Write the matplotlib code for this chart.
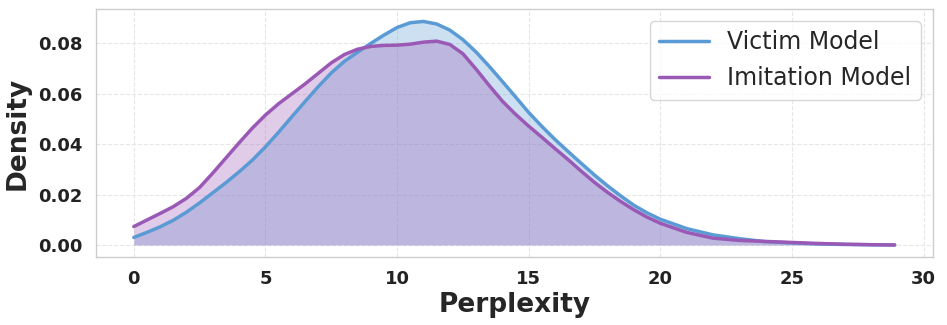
import numpy as np
import matplotlib
matplotlib.use('Agg')
import matplotlib.pyplot as plt
import seaborn as sns

# Densidades (paso de 0.5 hasta 20, luego de 1)
perplejidad = [0, 0.5, 1, 1.5, 2, 2.5, 3, 3.5, 4, 4.5, 5, 5.5, 6, 6.5, 7, 7.5, 8, 8.5,
               9, 9.5, 10, 10.5, 11, 11.5, 12, 12.5, 13, 13.5, 14, 14.5, 15, 15.5,
               16, 16.5, 17, 17.5, 18, 18.5, 19, 19.5, 20, 21, 22, 23, 24, 25, 26,
               27, 28, 28.9]
victima = [0.0030, 0.0050, 0.0072, 0.0098, 0.0130, 0.0167, 0.0207, 0.0247, 0.0290,
           0.0336, 0.0389, 0.0447, 0.0508, 0.0568, 0.0627, 0.0682, 0.0728, 0.0764,
           0.0799, 0.0832, 0.0862, 0.0881, 0.0886, 0.0876, 0.0852, 0.0814, 0.0765,
           0.0708, 0.0648, 0.0587, 0.0525, 0.0470, 0.0418, 0.0370, 0.0323, 0.0277,
           0.0234, 0.0194, 0.0157, 0.0127, 0.0102, 0.0065, 0.0040, 0.0025, 0.0013,
           0.0008, 0.0004, 0.0002, 0.0001, 0.0000]
imitacion = [0.0073, 0.0099, 0.0125, 0.0152, 0.0185, 0.0228, 0.0285, 0.0345, 0.0405,
             0.0463, 0.0515, 0.0560, 0.0599, 0.0638, 0.0680, 0.0722, 0.0755, 0.0776,
             0.0787, 0.0791, 0.0792, 0.0796, 0.0804, 0.0808, 0.0795, 0.0758, 0.0697,
             0.0632, 0.0570, 0.0518, 0.0471, 0.0427, 0.0382, 0.0338, 0.0292, 0.0248,
             0.0208, 0.0172, 0.0139, 0.0110, 0.0086, 0.0050, 0.0027, 0.0018, 0.0014,
             0.0010, 0.0006, 0.0003, 0.0001, 0.0000]

azul = '#5b9bd5'
morado = '#9b59b6'

sns.set_style('whitegrid')
plt.rcParams['font.family'] = ['DejaVu Sans']

fig = plt.figure(figsize=(9.47, 3.25), dpi=100)
ax = fig.add_axes([0.101, 0.209, 0.884, 0.763])

ax.fill_between(perplejidad, victima, color=azul, alpha=0.3, linewidth=0)
ax.plot(perplejidad, victima, color=azul, lw=2.5, label='Victim Model',
        solid_joinstyle='round')
ax.fill_between(perplejidad, imitacion, color=morado, alpha=0.3, linewidth=0)
ax.plot(perplejidad, imitacion, color=morado, lw=2.5, label='Imitation Model',
        solid_joinstyle='round')

ax.set_xlim(-1.45, 30.35)
ax.set_ylim(-0.0048, 0.0935)
ax.set_xticks([0, 5, 10, 15, 20, 25, 30])
ax.set_yticks([0.00, 0.02, 0.04, 0.06, 0.08])
ax.set_yticklabels(['0.00', '0.02', '0.04', '0.06', '0.08'])

ax.grid(True, linestyle='--', color='#e6e6e6', linewidth=0.8)
for s in ax.spines.values():
    s.set_color('#cccccc')
    s.set_linewidth(1.0)

for lab in ax.get_xticklabels() + ax.get_yticklabels():
    lab.set_fontweight('bold')
    lab.set_fontsize(13)
ax.tick_params(colors='#222222', pad=6)

ax.set_xlabel('Perplexity', fontsize=19, fontweight='bold', labelpad=3)
ax.set_ylabel('Density', fontsize=19, fontweight='bold', labelpad=5)

ax.legend(loc='upper right', fontsize=17, frameon=True, handlelength=2.1)

fig.savefig('out.png', dpi=100)
